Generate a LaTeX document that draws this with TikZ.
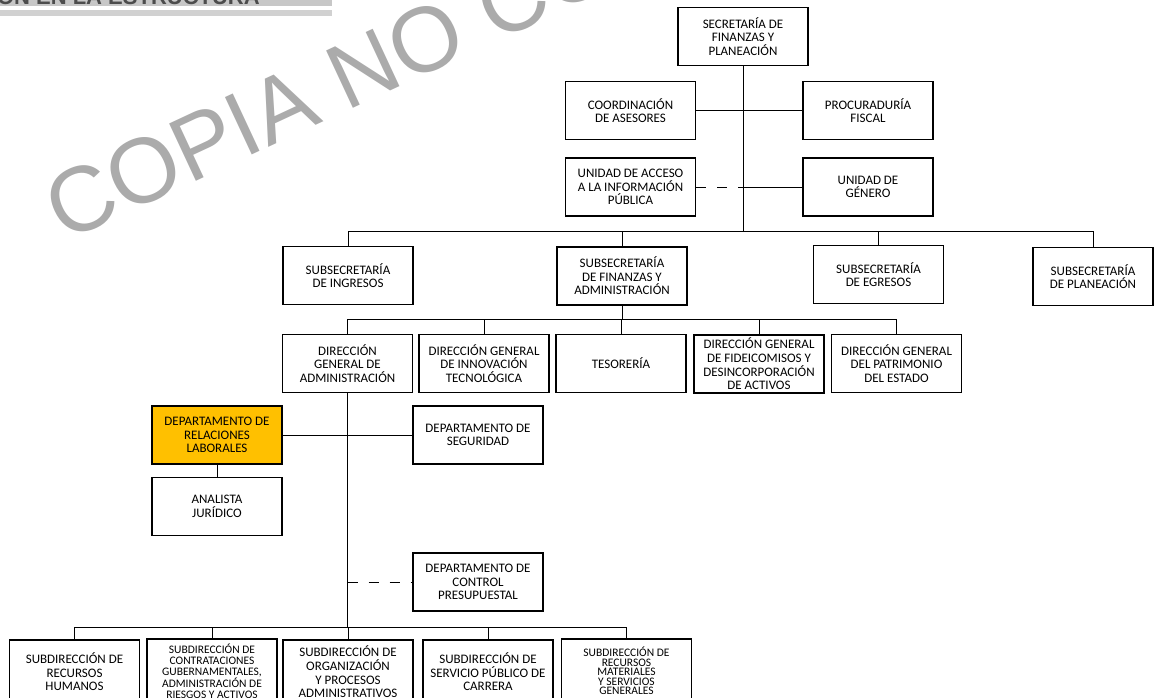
\documentclass[tikz,border=0pt]{standalone}
\usepackage{fontspec}
\setmainfont{Carlito}
\newfontfamily\wmfont{Liberation Sans}
\usetikzlibrary{calc}

\definecolor{laborgold}{HTML}{FFC000}

\begin{document}
\begin{tikzpicture}[x=1pt, y=-1pt,
  unit/.style={draw=black, line width=1.3pt, fill=white, minimum width=130pt, minimum height=58pt, align=center, inner sep=1pt, font=\fontsize{13}{13.6}\selectfont},
  lowunit/.style={unit, minimum height=64pt},
  link/.style={black, line width=1pt},
  dashlink/.style={link, dash pattern=on 10pt off 11pt}]

\useasboundingbox (0,0) rectangle (1154,698);
\clip (0,0) rectangle (1154,698);

% header and watermark
\fill[black!22] (0,0) rectangle (332,6);
\fill[black!18] (0,10) rectangle (332,16);
\node[anchor=base east, inner sep=0, text=black!70, font=\wmfont\bfseries\fontsize{22}{22}\selectfont] (hdr) at (260,5) {UBICACIÓN EN LA ESTRUCTURA};
\node[rotate=25, anchor=base west, inner sep=0, text=black!33, font=\wmfont\fontsize{92}{92}\selectfont] (wm) at (64,243) {COPIA NO CONTROLADA};

% top level
\node[unit] (sfp) at (743,36.5) {SECRETARÍA DE\\FINANZAS Y\\PLANEACIÓN};
\node[unit] (ca) at (630.5,110.5) {COORDINACIÓN\\DE ASESORES};
\node[unit] (pf) at (868,110.5) {PROCURADURÍA\\FISCAL};
\node[unit] (uaip) at (630.5,187) {UNIDAD DE ACCESO\\A LA INFORMACIÓN\\PÚBLICA};
\node[unit] (ug) at (868,187) {UNIDAD DE\\GÉNERO};

\node[unit] (ssi) at (348,275.5) {SUBSECRETARÍA\\DE INGRESOS};
\node[unit] (ssfa) at (622,276) {SUBSECRETARÍA\\DE FINANZAS Y\\ADMINISTRACIÓN};
\node[unit] (sse) at (878.5,274.5) {SUBSECRETARÍA\\DE EGRESOS};
\node[unit, minimum width=120pt] (ssp) at (1093,276.5) {SUBSECRETARÍA\\DE PLANEACIÓN};

\node[unit] (dga) at (347.5,363.5) {DIRECCIÓN\\GENERAL DE\\ADMINISTRACIÓN};
\node[unit] (dgit) at (484,363.5) {DIRECCIÓN GENERAL\\DE INNOVACIÓN\\TECNOLÓGICA};
\node[unit] (tes) at (621,363.5) {TESORERÍA};
\node[unit] (dgfd) at (759,364) {DIRECCIÓN GENERAL\\DE FIDEICOMISOS Y\\DESINCORPORACIÓN\\DE ACTIVOS};
\node[unit] (dgpe) at (896.5,363.5) {DIRECCIÓN GENERAL\\DEL PATRIMONIO\\DEL ESTADO};

\node[unit, fill=laborgold] (drl) at (217,435) {DEPARTAMENTO DE\\RELACIONES\\LABORALES};
\node[unit] (ds) at (478,435) {DEPARTAMENTO DE\\SEGURIDAD};
\node[unit] (aj) at (217,506.5) {ANALISTA\\JURÍDICO};
\node[unit] (dcp) at (478,582) {DEPARTAMENTO DE\\CONTROL\\PRESUPUESTAL};

\node[lowunit] (srh) at (74.5,672) {SUBDIRECCIÓN DE\\RECURSOS\\HUMANOS};
\node[lowunit, font=\fontsize{11.5}{10.8}\selectfont] (scg) at (212,671) {SUBDIRECCIÓN DE\\CONTRATACIONES\\GUBERNAMENTALES,\\ADMINISTRACIÓN DE\\RIESGOS Y ACTIVOS};
\node[lowunit] (sop) at (348,672) {SUBDIRECCIÓN DE\\ORGANIZACIÓN\\Y PROCESOS\\ADMINISTRATIVOS};
\node[lowunit] (ssc) at (488,672) {SUBDIRECCIÓN DE\\SERVICIO PÚBLICO DE\\CARRERA};
\node[lowunit, font=\fontsize{11.5}{9.4}\selectfont] (srm) at (626.5,671) {SUBDIRECCIÓN DE\\RECURSOS\\MATERIALES\\Y SERVICIOS\\GENERALES};

% buses
\coordinate (b1) at (743,231);
\coordinate (b2) at (622,319);
\coordinate (b3) at (347.5,627);

\draw[link] (sfp.south) -- (b1);
\draw[link] (ca.east) -- (pf.west);
\draw[dashlink] (uaip.east) -- (uaip.east -| sfp.south);
\draw[link] (uaip.east -| sfp.south) -- (ug.west);

\draw[link] (ssi.north |- b1) -- (ssp.north |- b1);
\foreach \n in {ssi,ssfa,sse,ssp}
  \draw[link] (\n.north |- b1) -- (\n.north);

\draw[link] (ssfa.south) -- (b2);
\draw[link] (dga.north |- b2) -- (dgpe.north |- b2);
\foreach \n in {dga,dgit,tes,dgfd,dgpe}
  \draw[link] (\n.north |- b2) -- (\n.north);

\draw[link] (dga.south) -- (b3);
\draw[link] (drl.east) -- (ds.west);
\draw[link] (drl.south) -- (aj.north);
\draw[dashlink] (dcp.west -| dga.south) -- (dcp.west);

\draw[link] (srh.north |- b3) -- (srm.north |- b3);
\foreach \n in {srh,scg,sop,ssc,srm}
  \draw[link] (\n.north |- b3) -- (\n.north);
\end{tikzpicture}
\end{document}
